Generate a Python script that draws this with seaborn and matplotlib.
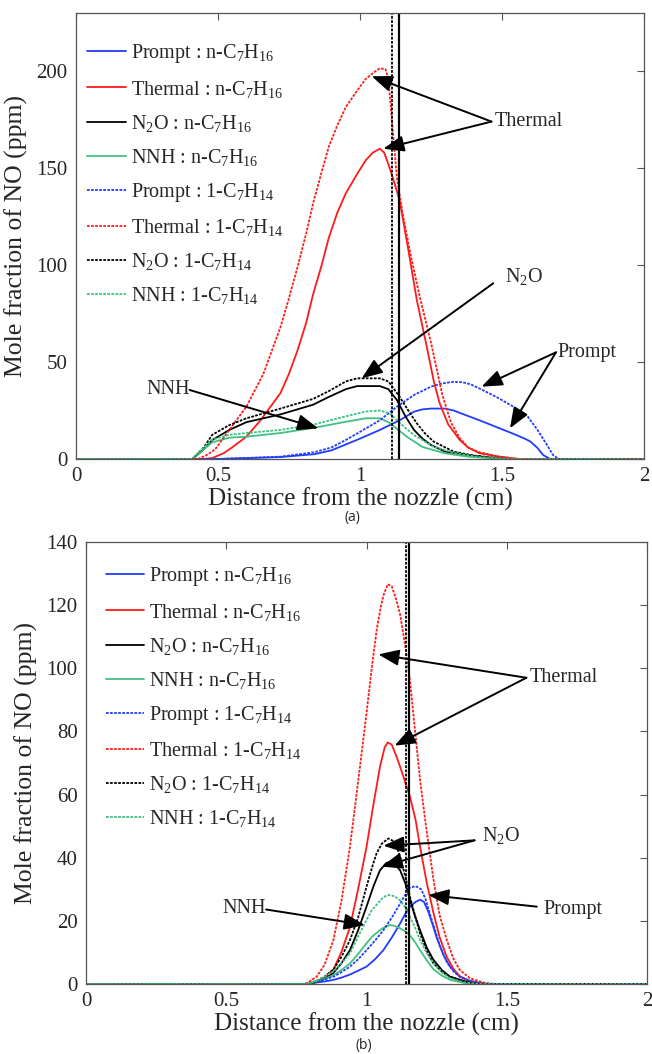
import matplotlib
matplotlib.use("Agg")
import matplotlib.pyplot as plt
import seaborn as sns
import pandas as pd

# ---------------- data: panel (a) ----------------
prompt_n_a_x = [0, 0.5, 0.72, 0.84, 0.90, 0.95, 1.00, 1.07, 1.14, 1.19, 1.22, 1.25, 1.30, 1.33, 1.36, 1.42, 1.48, 1.54, 1.58, 1.60, 1.625, 1.645, 1.67, 2.0]
prompt_n_a_y = [0, 0, 1, 2.5, 4.5, 7.5, 10.5, 15, 20, 24.4, 25.6, 26, 26, 25, 23.3, 20, 16.5, 13, 10.5, 9, 5.7, 2, 0, 0]
prompt_1_a_x = [0, 0.5, 0.72, 0.84, 0.90, 0.95, 1.00, 1.07, 1.13, 1.19, 1.25, 1.29, 1.33, 1.36, 1.39, 1.42, 1.48, 1.54, 1.59, 1.625, 1.655, 1.68, 1.70, 2.0]
prompt_1_a_y = [0, 0, 1.2, 3.5, 6, 9.8, 14, 20, 27, 33, 37.3, 39, 39.8, 39.6, 38.5, 36.4, 32, 27, 22, 15, 8, 2, 0, 0]
thermal_n_a_x = [0, 0.45, 0.48, 0.52, 0.55, 0.60, 0.65, 0.69, 0.72, 0.75, 0.78, 0.81, 0.835, 0.865, 0.89, 0.92, 0.95, 0.99, 1.02, 1.045, 1.07, 1.085, 1.10, 1.12, 1.14, 1.17, 1.20, 1.235, 1.26, 1.28, 1.31, 1.35, 1.38, 1.42, 1.49, 1.56, 2.0]
thermal_n_a_y = [0, 0, 0.5, 3, 6, 11.5, 20, 28, 34, 44, 56, 70, 85, 100, 114, 127, 137, 147, 154, 158, 160, 158, 152, 143, 133, 108, 82, 58, 40, 29, 18, 10, 6, 3, 1.2, 0, 0]
thermal_1_a_x = [0, 0.43, 0.46, 0.49, 0.54, 0.60, 0.66, 0.72, 0.75, 0.78, 0.81, 0.835, 0.865, 0.89, 0.92, 0.95, 0.99, 1.02, 1.05, 1.07, 1.09, 1.10, 1.115, 1.13, 1.152, 1.18, 1.21, 1.25, 1.29, 1.32, 1.35, 1.38, 1.42, 1.49, 1.56, 2.0]
thermal_1_a_y = [0, 0, 2, 5, 15, 27, 44, 68, 83, 99, 116, 132, 148, 161, 172, 181.5, 190, 196, 199.5, 201.5, 201, 196, 170, 145, 125, 104, 84, 60, 33, 19, 11, 6, 3.5, 1.2, 0, 0]
n2o_n_a_x = [0, 0.41, 0.45, 0.48, 0.54, 0.60, 0.72, 0.835, 0.89, 0.95, 0.99, 1.07, 1.10, 1.13, 1.16, 1.19, 1.22, 1.25, 1.30, 1.38, 1.45, 1.52, 2.0]
n2o_n_a_y = [0, 0, 5, 9.8, 15, 19, 23, 28, 32, 36, 37.6, 37.6, 36, 30.4, 22, 15, 10.5, 7.2, 3.8, 2, 0.8, 0, 0]
n2o_1_a_x = [0, 0.41, 0.45, 0.48, 0.54, 0.60, 0.72, 0.835, 0.89, 0.95, 0.99, 1.07, 1.10, 1.14, 1.17, 1.20, 1.23, 1.26, 1.33, 1.40, 1.47, 1.54, 2.0]
n2o_1_a_y = [0, 0, 6, 12.5, 17.5, 21, 26, 31, 35, 40, 41.6, 41.6, 40, 32, 25, 18.4, 13, 8.9, 3.8, 1.8, 0.7, 0, 0]
nnh_n_a_x = [0, 0.41, 0.45, 0.48, 0.54, 0.60, 0.72, 0.835, 0.95, 1.02, 1.07, 1.105, 1.135, 1.165, 1.22, 1.30, 1.38, 1.46, 1.56, 2.0]
nnh_n_a_y = [0, 0, 5, 8.6, 11, 11.5, 13.4, 16, 19.2, 21, 21, 18.6, 15, 11.5, 6.2, 2.9, 1.2, 0.4, 0, 0]
nnh_1_a_x = [0, 0.41, 0.45, 0.48, 0.54, 0.60, 0.72, 0.835, 0.95, 1.02, 1.07, 1.105, 1.13, 1.16, 1.19, 1.26, 1.34, 1.42, 1.50, 1.58, 2.0]
nnh_1_a_y = [0, 0, 6, 10, 12.5, 13.4, 15, 17.7, 22, 24.5, 25, 23.5, 20, 16, 12.4, 6.2, 2.9, 1.0, 0.3, 0, 0]
vlines_a = [1.114, 1.136]

# ---------------- data: panel (b) ----------------
prompt_n_b_x = [0, 0.80, 0.822, 0.85, 0.882, 0.91, 0.941, 0.97, 1.0, 1.03, 1.06, 1.09, 1.12, 1.14, 1.155, 1.175, 1.191, 1.205, 1.22, 1.235, 1.251, 1.275, 1.298, 1.33, 1.357, 1.42, 2.0]
prompt_n_b_y = [0, 0, 0.5, 0.8, 1.3, 2, 3, 4.2, 5.5, 7.8, 10.7, 14.7, 19.2, 22.5, 24.5, 26, 26.7, 26, 23, 19, 14.5, 9, 5.5, 2.6, 1.3, 0, 0]
prompt_1_b_x = [0, 0.80, 0.822, 0.85, 0.882, 0.91, 0.941, 0.97, 1.0, 1.03, 1.06, 1.09, 1.12, 1.14, 1.155, 1.175, 1.195, 1.21, 1.225, 1.239, 1.26, 1.286, 1.31, 1.333, 1.38, 1.43, 2.0]
prompt_1_b_y = [0, 0, 0.8, 1.4, 2.3, 3.7, 5.5, 7.8, 10.7, 13.7, 17, 21, 25.5, 28.5, 30.5, 31, 30, 27, 22.5, 18.5, 12.5, 7, 4, 2.3, 0.6, 0, 0]
thermal_n_b_x = [0, 0.79, 0.822, 0.85, 0.882, 0.91, 0.941, 0.97, 1.0, 1.025, 1.048, 1.065, 1.0755, 1.09, 1.105, 1.12, 1.155, 1.175, 1.191, 1.215, 1.239, 1.26, 1.286, 1.31, 1.333, 1.38, 1.43, 2.0]
thermal_n_b_y = [0, 0, 0.7, 2, 4.6, 10, 18, 30, 43.4, 57, 68.8, 75, 76.5, 75.8, 72.5, 68.8, 59.3, 52, 43.4, 32, 22.4, 15, 8.6, 4.8, 2.3, 0.6, 0, 0]
thermal_1_b_x = [0, 0.78, 0.80, 0.822, 0.85, 0.882, 0.91, 0.941, 0.97, 1.0, 1.02, 1.036, 1.05, 1.06, 1.0755, 1.09, 1.105, 1.12, 1.14, 1.155, 1.17, 1.191, 1.215, 1.239, 1.26, 1.286, 1.31, 1.333, 1.369, 1.42, 1.46, 2.0]
thermal_1_b_y = [0, 0, 1, 2.3, 6, 13.9, 26, 43.4, 64, 85.7, 101, 112, 119, 123, 126.6, 126, 122, 117, 106, 96, 83, 64.6, 48, 33, 22, 14, 8, 4.4, 1.8, 0.4, 0, 0]
n2o_n_b_x = [0, 0.79, 0.822, 0.85, 0.882, 0.91, 0.941, 0.97, 1.0, 1.025, 1.048, 1.07, 1.084, 1.10, 1.12, 1.14, 1.155, 1.175, 1.191, 1.215, 1.239, 1.27, 1.298, 1.357, 1.40, 2.0]
n2o_n_b_y = [0, 0, 0.7, 1.6, 3.5, 6.5, 10.7, 17, 24.5, 31, 36, 38.3, 38.7, 38, 36, 31.5, 26.5, 21, 17, 11.5, 7.6, 4.3, 2.3, 0.7, 0, 0]
n2o_1_b_x = [0, 0.79, 0.822, 0.85, 0.882, 0.91, 0.941, 0.97, 1.0, 1.02, 1.036, 1.055, 1.078, 1.095, 1.11, 1.12, 1.14, 1.155, 1.175, 1.191, 1.215, 1.239, 1.27, 1.298, 1.35, 1.40, 2.0]
n2o_1_b_y = [0, 0, 1, 2.3, 4.6, 8.5, 13.9, 21, 30.8, 37, 41.4, 44.5, 46.1, 45.3, 43, 40.3, 33.5, 27.6, 21, 16, 10.5, 6.5, 3.8, 2.3, 0.7, 0, 0]
nnh_n_b_x = [0, 0.79, 0.822, 0.85, 0.882, 0.91, 0.941, 0.97, 1.0, 1.02, 1.04, 1.06, 1.084, 1.10, 1.12, 1.14, 1.155, 1.175, 1.191, 1.215, 1.239, 1.27, 1.298, 1.35, 1.40, 2.0]
nnh_n_b_y = [0, 0, 0.8, 1.6, 2.8, 4.4, 6.5, 9.5, 12.9, 15, 16.5, 17.8, 18.7, 18.4, 17.6, 16.6, 15.4, 13, 10.7, 7.5, 4.6, 2.6, 1.3, 0.3, 0, 0]
nnh_1_b_x = [0, 0.79, 0.822, 0.85, 0.882, 0.91, 0.941, 0.97, 1.0, 1.02, 1.04, 1.06, 1.078, 1.10, 1.12, 1.14, 1.155, 1.175, 1.191, 1.215, 1.239, 1.27, 1.298, 1.35, 1.40, 2.0]
nnh_1_b_y = [0, 0, 1, 2.3, 4, 6.5, 9.7, 15, 20.3, 23.5, 25.5, 27.5, 28.2, 27.8, 26.5, 24, 21.3, 17.5, 13.9, 9.8, 6.5, 3.6, 1.8, 0.5, 0, 0]
vlines_b = [1.141, 1.150]

labels = ["Prompt : n-C$_7$H$_{16}$", "Thermal : n-C$_7$H$_{16}$", "N$_2$O : n-C$_7$H$_{16}$",
          "NNH : n-C$_7$H$_{16}$", "Prompt : 1-C$_7$H$_{14}$", "Thermal : 1-C$_7$H$_{14}$",
          "N$_2$O : 1-C$_7$H$_{14}$", "NNH : 1-C$_7$H$_{14}$"]
x_ticks = [0, 0.5, 1, 1.5, 2]
x_ticklabels = ["0", "0.5", "1", "1.5", "2"]
yticks_a = [0, 50, 100, 150, 200]
yticks_b = [0, 20, 40, 60, 80, 100, 120, 140]

sns.set_style("white")
plt.rcParams["font.family"] = ["Liberation Serif", "DejaVu Serif"]
plt.rcParams["mathtext.fontset"] = "custom"
plt.rcParams["mathtext.rm"] = "Liberation Serif"
plt.rcParams["mathtext.it"] = "Liberation Serif:italic"
plt.rcParams["mathtext.default"] = "regular"

BLUE, RED, BLACK, GREEN = "#1f3cff", "#ff1a1a", "#000000", "#40c080"
colors = [BLUE, RED, BLACK, GREEN] * 2
dotted = (0, (1.5, 0.75))
styles = ["-"] * 4 + [dotted] * 4

fig = plt.figure(figsize=(6.52, 10.54), dpi=100)
axa = fig.add_axes([76 / 652, 1 - 459 / 1054, (644 - 76) / 652, (459 - 13) / 1054])
axb = fig.add_axes([86 / 652, 1 - 984 / 1054, (647 - 86) / 652, (984 - 542) / 1054])

series_a = [(prompt_n_a_x, prompt_n_a_y), (thermal_n_a_x, thermal_n_a_y), (n2o_n_a_x, n2o_n_a_y), (nnh_n_a_x, nnh_n_a_y),
            (prompt_1_a_x, prompt_1_a_y), (thermal_1_a_x, thermal_1_a_y), (n2o_1_a_x, n2o_1_a_y), (nnh_1_a_x, nnh_1_a_y)]
series_b = [(prompt_n_b_x, prompt_n_b_y), (thermal_n_b_x, thermal_n_b_y), (n2o_n_b_x, n2o_n_b_y), (nnh_n_b_x, nnh_n_b_y),
            (prompt_1_b_x, prompt_1_b_y), (thermal_1_b_x, thermal_1_b_y), (n2o_1_b_x, n2o_1_b_y), (nnh_1_b_x, nnh_1_b_y)]


def draw(ax, series, vls, ylim, yticks, leg_anchor):
    for (xs, ys), lab, c, ls in zip(series, labels, colors, styles):
        df = pd.DataFrame({"x": xs, "y": ys})
        sns.lineplot(data=df, x="x", y="y", ax=ax, color=c, linestyle=ls, lw=1.3, label=lab, sort=False)
    ax.axvline(vls[0], color="k", lw=1.3, linestyle=(0, (1.5, 0.8)))
    ax.axvline(vls[1], color="k", lw=1.6)
    ax.set_xlim(0, 2)
    ax.set_ylim(*ylim)
    ax.set_xticks(x_ticks)
    ax.set_xticklabels(x_ticklabels)
    ax.set_yticks(yticks)
    ax.tick_params(direction="in", top=True, right=True, length=5, labelsize=15, pad=6, color="#555555")
    for s in ax.spines.values():
        s.set_color("#555555")
        s.set_linewidth(0.9)
    ax.set_xlabel("Distance from the nozzle (cm)", fontsize=18, labelpad=1)
    ax.set_ylabel("Mole fraction of NO (ppm)", fontsize=18.5, labelpad=6)
    ax.legend(loc="upper left", bbox_to_anchor=leg_anchor, frameon=False, fontsize=14.5,
              handlelength=1.9, handletextpad=0.25, labelspacing=0.65, borderaxespad=0, borderpad=0)


draw(axa, series_a, vlines_a, (0, 230), yticks_a, (0.02, 0.934))
draw(axb, series_b, vlines_b, (0, 140), yticks_b, (0.035, 0.947))

ap = dict(arrowstyle="-|>,head_length=0.9,head_width=0.35", color="k", lw=1.4,
          shrinkA=0, shrinkB=0, mutation_scale=14)
tfs = 14.5
# panel (a) annotations
for tip in [(1.041, 197.4), (1.082, 160)]:
    axa.annotate("", xy=tip, xytext=(1.463, 174), arrowprops=ap)
axa.text(1.475, 174, "Thermal", fontsize=tfs, va="center", ha="left")
axa.annotate("", xy=(1.006, 41.6), xytext=(1.469, 90.6), arrowprops=ap)
axa.text(1.51, 94, "N$_2$O", fontsize=tfs, va="center", ha="left")
for tip in [(1.428, 37.3), (1.528, 15.8)]:
    axa.annotate("", xy=tip, xytext=(1.69, 55), arrowprops=ap)
axa.text(1.695, 55, "Prompt", fontsize=tfs, va="center", ha="left")
axa.annotate("", xy=(0.853, 15.8), xytext=(0.40, 35.6), arrowprops=ap)
axa.text(0.40, 36, "NNH", fontsize=tfs, va="center", ha="right")

# panel (b) annotations
for tip in [(1.042, 104.4), (1.10, 75.5)]:
    axb.annotate("", xy=tip, xytext=(1.57, 97), arrowprops=ap)
axb.text(1.58, 97, "Thermal", fontsize=tfs, va="center", ha="left")
for tip in [(1.06, 43.8), (1.054, 37.2)]:
    axb.annotate("", xy=tip, xytext=(1.385, 45.5), arrowprops=ap)
axb.text(1.41, 47, "N$_2$O", fontsize=tfs, va="center", ha="left")
axb.annotate("", xy=(1.22, 28.2), xytext=(1.607, 24.5), arrowprops=ap)
axb.text(1.63, 23.6, "Prompt", fontsize=tfs, va="center", ha="left")
axb.annotate("", xy=(0.994, 18.7), xytext=(0.642, 23.6), arrowprops=ap)
axb.text(0.64, 24, "NNH", fontsize=tfs, va="center", ha="right")

fig.text(352 / 652, 1 - 517 / 1054, "(a)", fontsize=10, ha="center", va="center", family=["Open Sans", "DejaVu Sans"])
fig.text(364 / 652, 1 - 1046 / 1054, "(b)", fontsize=10, ha="center", va="center", family=["Open Sans", "DejaVu Sans"])

fig.savefig("out.png", dpi=100, facecolor="white")
